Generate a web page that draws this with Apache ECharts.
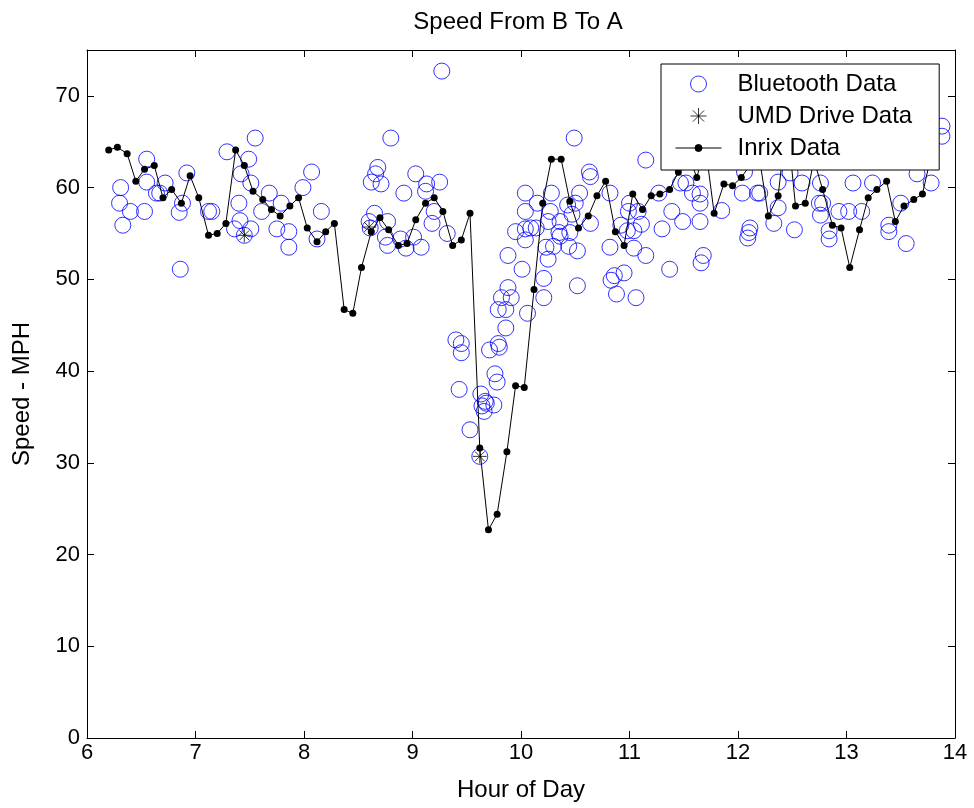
<!DOCTYPE html>
<html>
<head>
<meta charset="utf-8">
<script src="https://cdn.jsdelivr.net/npm/echarts@6/dist/echarts.min.js"></script>
<style>
  html, body { margin: 0; padding: 0; background: #fff; }
  #chart { width: 974px; height: 808px; }
</style>
</head>
<body>
<div id="chart"></div>
<script>
// tick labels
const xTicks = [6, 7, 8, 9, 10, 11, 12, 13, 14];
const yTicks = [0, 10, 20, 30, 40, 50, 60, 70];
const yTop = 75;

// Bluetooth travel-time samples (hour of day, mph)
const btHour = [6.31,6.30,6.33,6.40,6.55,6.55,6.53,6.64,6.67,6.72,6.85,6.88,6.92,6.86,7.12,7.15,7.29,7.40,7.41,7.36,7.51,7.45,7.55,7.49,7.42,7.51,7.61,7.68,7.75,7.79,7.86,7.86,7.99,8.07,8.16,8.12,
  8.80,9.27,8.62,8.66,8.68,8.71,8.92,9.03,9.13,9.12,9.25,9.20,9.18,9.32,8.60,8.65,8.61,8.77,8.75,8.77,8.89,8.94,9.01,9.08,
  9.40,9.45,9.45,9.43,9.53,9.62,9.63,9.67,9.64,9.68,9.75,9.66,9.71,9.79,9.80,9.76,9.78,9.79,9.86,9.82,9.91,9.88,9.86,10.06,10.21,10.21,10.01,9.88,10.52,
  10.49,10.63,10.64,10.04,10.28,10.54,10.15,10.43,10.50,10.04,10.27,10.47,10.64,9.95,10.04,10.09,10.14,10.25,10.36,10.35,10.45,10.36,10.04,10.23,10.30,10.44,10.52,10.25,
  10.82,11.00,10.99,11.08,10.92,10.98,11.04,11.11,10.82,11.04,11.15,10.83,10.86,10.95,10.88,11.06,11.15,11.27,11.39,11.49,11.30,11.37,11.65,11.68,11.66,11.47,11.52,11.58,11.65,11.65,11.85,12.06,
  12.04,12.18,12.20,12.37,12.48,12.59,12.37,12.33,12.11,12.10,12.09,12.52,12.76,12.75,12.78,12.76,12.84,12.84,12.93,13.02,13.14,13.06,13.24,13.39,13.39,13.50,13.55,13.65,13.78,13.88,13.88];
const btMph = [60.0,58.3,55.9,57.4,63.1,60.6,57.4,59.4,59.4,60.5,57.3,58.3,61.6,51.1,57.4,57.4,63.9,58.3,56.4,55.5,55.5,54.8,65.4,63.1,61.5,60.5,57.4,59.4,55.5,58.3,55.2,53.5,60.0,61.7,57.4,54.4,
  65.4,72.7,60.6,61.5,62.2,60.4,59.4,61.5,60.4,59.6,60.6,57.4,56.1,55.0,56.3,57.2,55.6,56.3,54.6,53.7,54.4,53.4,54.6,53.5,
  43.4,43.0,42.0,38.0,33.6,30.7,37.5,36.7,36.2,36.5,36.3,35.6,42.3,43.0,42.6,39.7,38.8,46.7,46.7,48.0,48.0,49.1,44.7,46.3,48.0,50.1,51.1,52.6,49.3,
  65.4,61.7,61.2,59.4,59.4,59.4,58.3,58.1,58.3,57.4,57.4,57.1,56.1,55.2,55.5,55.6,55.6,56.3,56.3,55.1,55.1,54.7,54.3,53.5,53.6,53.6,53.1,52.2,
  59.4,58.3,57.4,57.4,55.9,55.3,55.3,56.0,53.5,53.4,52.6,49.9,50.4,50.7,48.4,48.0,63.0,59.4,57.4,56.3,55.5,51.1,56.3,52.6,51.8,60.5,60.5,59.4,59.3,58.3,57.5,61.7,
  59.4,59.4,59.4,60.6,61.6,60.5,57.8,56.1,55.6,55.1,54.5,55.4,60.5,58.3,58.3,57.0,55.3,54.4,57.4,57.4,57.4,60.5,60.5,55.9,55.2,58.3,53.9,61.5,60.5,66.7,65.6];

// UMD probe vehicle runs
const umdHour = [7.45, 8.60, 9.62];
const umdMph = [54.8, 55.7, 30.7];

// Inrix 5-minute speeds
const inrixHour = [6.20,6.28,6.37,6.45,6.53,6.62,6.70,6.78,6.87,6.95,7.03,7.12,7.20,7.28,7.37,7.45,7.53,7.62,7.70,7.78,7.87,7.95,8.03,8.12,8.20,8.28,8.37,8.45,8.53,8.62,8.70,8.78,8.87,8.95,9.03,9.12,9.20,9.28,9.37,9.45,9.53,9.62,9.70,9.78,9.87,9.95,10.03,10.12,10.20,10.28,10.37,10.45,10.53,10.62,10.70,10.78,10.87,10.95,11.03,11.12,11.20,11.28,11.37,11.45,11.53,11.62,11.70,11.78,11.87,11.95,12.03,12.12,12.20,12.28,12.37,12.45,12.53,12.62,12.70,12.78,12.87,12.95,13.03,13.12,13.20,13.28,13.37,13.45,13.53,13.62,13.70,13.78];
const inrixMph = [64.1,64.4,63.7,60.7,62.0,62.4,58.9,59.8,58.3,61.3,
  58.9,54.8,55.0,56.1,64.1,62.4,59.6,58.7,57.6,56.9,
  58.0,58.9,55.6,54.1,55.2,56.1,46.7,46.3,51.3,55.2,
  56.7,55.4,53.7,53.9,56.5,58.3,58.9,57.4,53.7,54.3,
  57.2,31.6,22.7,24.4,31.2,38.4,38.2,48.9,58.3,63.1,
  63.1,58.5,55.6,56.9,59.1,60.7,55.2,53.7,59.3,57.6,
  59.1,59.3,59.8,61.7,64.0,61.1,64.5,57.2,60.4,60.2,
  61.1,62.6,63.0,56.9,59.1,67.5,58.0,58.3,63.0,59.8,
  55.9,55.6,51.3,55.4,58.9,59.8,60.7,56.3,58.0,58.7,
  59.3,63.5];

const pairs = (xs, ys) => xs.map((x, i) => [x, ys[i]]);
const star = 'path://M5 0L5 10M0 5L10 5M1.5 1.5L8.5 8.5M1.5 8.5L8.5 1.5';
// legend glyph for the Inrix entry: a thin line with a small dot in the middle
const lineDot = 'path://M0 0M46 16M0 8L46 8M26.5 8A3.5 3.5 0 1 1 19.5 8A3.5 3.5 0 1 1 26.5 8Z';
const font = 'Liberation Sans, Arial, Helvetica, sans-serif';

const chart = echarts.init(document.getElementById('chart'));

const frameX = (pos) => ({
  type: 'value', position: pos, min: xTicks[0], max: xTicks[xTicks.length - 1],
  interval: xTicks[1] - xTicks[0],
  axisLine: { show: true, onZero: false, lineStyle: { color: '#000', width: 1 } },
  axisTick: { show: true, inside: true, length: 7, lineStyle: { color: '#000' } },
  splitLine: { show: false }
});
const frameY = (pos) => ({
  type: 'value', position: pos, min: yTicks[0], max: yTop,
  interval: yTicks[1] - yTicks[0],
  axisLine: { show: true, onZero: false, lineStyle: { color: '#000', width: 1 } },
  axisTick: { show: true, inside: true, length: 7, lineStyle: { color: '#000' } },
  splitLine: { show: false }
});

const xBottom = Object.assign(frameX('bottom'), {
  name: 'Hour of Day', nameLocation: 'middle', nameGap: 40,
  nameTextStyle: { fontFamily: font, fontSize: 24, color: '#000' },
  axisLabel: { fontFamily: font, fontSize: 22, color: '#000', margin: 4 }
});
const xTop = Object.assign(frameX('top'), { axisLabel: { show: false } });
const yLeft = Object.assign(frameY('left'), {
  name: 'Speed - MPH', nameLocation: 'middle', nameGap: 53, nameRotate: 90,
  nameTextStyle: { fontFamily: font, fontSize: 24, color: '#000' },
  axisLabel: { fontFamily: font, fontSize: 22, color: '#000', margin: 7, showMaxLabel: false }
});
const yRight = Object.assign(frameY('right'), { axisLabel: { show: false } });

chart.setOption({
  animation: false,
  backgroundColor: '#fff',
  title: {
    text: 'Speed From B To A', left: 518, top: 10, textAlign: 'center', padding: 0,
    textStyle: { fontFamily: font, fontSize: 24, fontWeight: 'normal', color: '#000' }
  },
  grid: { left: 87, right: 19, top: 50, bottom: 70, containLabel: false },
  xAxis: [xBottom, xTop],
  yAxis: [yLeft, yRight],
  legend: {
    orient: 'vertical', left: 661, top: 64, z: 10,
    padding: [8, 27, 10, 14], itemWidth: 46, itemHeight: 16, itemGap: 8,
    backgroundColor: '#fff', borderColor: '#000', borderWidth: 1, borderRadius: 0,
    textStyle: { fontFamily: font, fontSize: 24, lineHeight: 24, color: '#000', padding: [0, 0, 0, 11] },
    data: [
      { name: 'Bluetooth Data', icon: 'circle', itemStyle: { color: 'rgba(0,0,0,0)', borderColor: '#0000ff', borderWidth: 1 } },
      { name: 'UMD Drive Data', icon: star, itemStyle: { color: 'none', borderColor: '#000', borderWidth: 1 } },
      { name: 'Inrix Data', icon: lineDot, itemStyle: { color: '#000', borderColor: '#000', borderWidth: 1 } }
    ]
  },
  series: [
    {
      name: 'Bluetooth Data', type: 'scatter', xAxisIndex: 0, yAxisIndex: 0,
      symbol: 'circle', symbolSize: 16,
      itemStyle: { color: 'rgba(0,0,0,0)', borderColor: '#0000ff', borderWidth: 1 },
      data: pairs(btHour, btMph)
    },
    {
      name: 'UMD Drive Data', type: 'scatter', xAxisIndex: 0, yAxisIndex: 0,
      symbol: star, symbolSize: 14, z: 4,
      itemStyle: { color: 'none', borderColor: '#000', borderWidth: 1 },
      data: pairs(umdHour, umdMph)
    },
    {
      name: 'Inrix Data', type: 'line', xAxisIndex: 0, yAxisIndex: 0,
      symbol: 'circle', symbolSize: 7, showAllSymbol: true, z: 3,
      lineStyle: { color: '#000', width: 1 },
      itemStyle: { color: '#000' },
      data: pairs(inrixHour, inrixMph)
    }
  ]
});
</script>
</body>
</html>
